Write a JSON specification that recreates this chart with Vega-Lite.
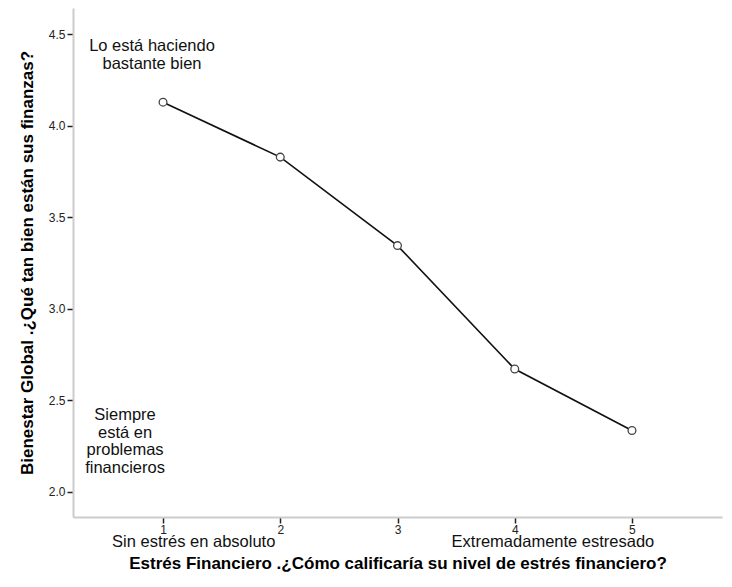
{
  "$schema": "https://vega.github.io/schema/vega-lite/v6.json",
  "width": 649,
  "height": 509,
  "autosize": {"type": "none"},
  "padding": {"left": 73, "top": 8, "right": 10, "bottom": 62},
  "background": "white",
  "config": {
    "font": "Liberation Sans",
    "view": {"stroke": null},
    "axis": {"grid": false}
  },
  "datasets": {
    "points": [
      {"estres": 1, "bienestar": 4.128},
      {"estres": 2, "bienestar": 3.828},
      {"estres": 3, "bienestar": 3.345},
      {"estres": 4, "bienestar": 2.671},
      {"estres": 5, "bienestar": 2.336}
    ],
    "notes": [
      {"x": 0.906, "y": 4.4345, "label": "Lo está haciendo\nbastante bien"},
      {"x": 0.676, "y": 2.42, "label": "Siempre\nestá en\nproblemas\nfinancieros"}
    ],
    "cats": [
      {"x": 1.262, "y": 1.728, "label": "Sin estrés en absoluto"},
      {"x": 4.326, "y": 1.728, "label": "Extremadamente estresado"}
    ]
  },
  "layer": [
    {
      "data": {"name": "points"},
      "mark": {"type": "line", "color": "#111111", "strokeWidth": 1.6},
      "encoding": {
        "x": {
          "field": "estres", "type": "quantitative",
          "scale": {"domain": [0.232, 5.768], "nice": false, "zero": false},
          "axis": {
            "values": [1, 2, 3, 4, 5], "format": "d",
            "title": "Estrés Financiero .¿Cómo calificaría su nivel de estrés financiero?",
            "titleFont": "Liberation Sans", "titleFontSize": 17, "titleFontWeight": "bold",
            "titleColor": "#000000", "titlePadding": 20,
            "labelFontSize": 12, "labelColor": "#222222", "labelPadding": 1,
            "domainColor": "#cccccc", "domainWidth": 2,
            "tickColor": "#222222", "tickSize": 6, "tickWidth": 1.5
          }
        },
        "y": {
          "field": "bienestar", "type": "quantitative",
          "scale": {"domain": [1.8635, 4.642], "nice": false, "zero": false},
          "axis": {
            "values": [2.0, 2.5, 3.0, 3.5, 4.0, 4.5], "format": ".1f",
            "title": "Bienestar Global .¿Qué tan bien están sus finanzas?",
            "titleFont": "Liberation Sans", "titleFontSize": 17, "titleFontWeight": "bold",
            "titleColor": "#000000", "titlePadding": 12,
            "labelFontSize": 12, "labelColor": "#222222", "labelPadding": 2,
            "domainColor": "#cccccc", "domainWidth": 2,
            "tickColor": "#222222", "tickSize": 6, "tickWidth": 1.5
          }
        }
      }
    },
    {
      "data": {"name": "points"},
      "mark": {"type": "point", "shape": "circle", "filled": true, "fill": "white", "stroke": "#444444", "strokeWidth": 1.3, "size": 60, "opacity": 1},
      "encoding": {
        "x": {"field": "estres", "type": "quantitative"},
        "y": {"field": "bienestar", "type": "quantitative"}
      }
    },
    {
      "data": {"name": "notes"},
      "mark": {"type": "text", "fontSize": 16.5, "color": "#111111", "lineBreak": "\n", "lineHeight": 17.5, "align": "center", "baseline": "middle"},
      "encoding": {
        "x": {"field": "x", "type": "quantitative"},
        "y": {"field": "y", "type": "quantitative"},
        "text": {"field": "label"}
      }
    },
    {
      "data": {"name": "cats"},
      "mark": {"type": "text", "fontSize": 16.5, "color": "#111111", "align": "center", "baseline": "middle"},
      "encoding": {
        "x": {"field": "x", "type": "quantitative"},
        "y": {"field": "y", "type": "quantitative"},
        "text": {"field": "label"}
      }
    }
  ]
}
